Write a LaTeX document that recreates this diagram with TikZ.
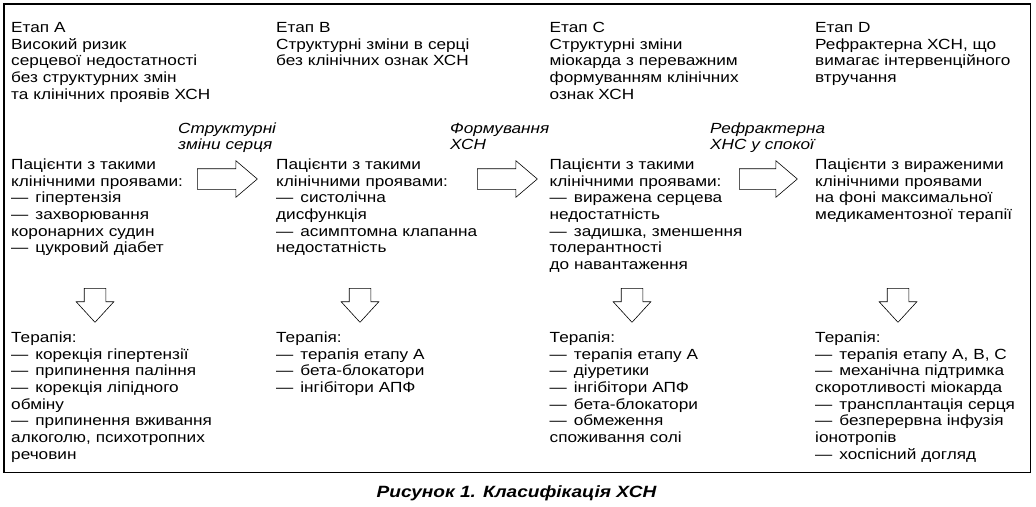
\documentclass[tikz,border=0pt]{standalone}
\usepackage{fontspec}
\setmainfont{Liberation Sans}[FakeStretch=1.17]
\usetikzlibrary{shapes.arrows}
\newcommand{\tire}{—\hspace{7pt}}

\begin{document}
\begin{tikzpicture}[x=1pt, y=-1pt,
    txt/.style={anchor=base west, inner sep=0pt, text width=255pt, align=left,
      font=\fontsize{14.7}{16.7}\selectfont},
    lbl/.style={txt, font=\fontsize{14.7}{16}\selectfont\itshape},
    rarrow/.style={single arrow, draw, line width=0.6pt, anchor=tail,
      inner xsep=0pt, inner ysep=10pt,
      minimum height=60pt, minimum width=36pt, single arrow head extend=8pt,
      single arrow tip angle=81},
    darrow/.style={rarrow, shape border rotate=270, inner xsep=10.5pt, inner ysep=0pt,
      minimum height=34pt, minimum width=37pt, single arrow tip angle=85}]
  \useasboundingbox (0,0) rectangle (1036,506);
  \draw[line width=1.2pt] (4,4) rectangle (1030.5,472.5);

  % stages
  \node[txt] (stA) at (11,32.3) {Етап А\\Високий ризик\\серцевої недостатності\\без структурних змін\\та клінічних проявів ХСН};
  \node[txt] (stB) at (276,32.3) {Етап В\\Структурні зміни в серці\\без клінічних ознак ХСН};
  \node[txt] (stC) at (549.5,32.3) {Етап С\\Структурні зміни\\міокарда з переважним\\формуванням клінічних\\ознак ХСН};
  \node[txt] (stD) at (815,32.3) {Етап D\\Рефрактерна ХСН, що\\вимагає інтервенційного\\втручання};

  % patients
  \node[txt] (ptA) at (11,169.3) {Пацієнти з такими\\клінічними проявами:\\\tire гіпертензія\\\tire захворювання\\коронарних судин\\\tire цукровий діабет};
  \node[txt] (ptB) at (276,169.3) {Пацієнти з такими\\клінічними проявами:\\\tire систолічна\\дисфункція\\\tire асимптомна клапанна\\недостатність};
  \node[txt] (ptC) at (549.5,169.3) {Пацієнти з такими\\клінічними проявами:\\\tire виражена серцева\\недостатність\\\tire задишка, зменшення\\толерантності\\до навантаження};
  \node[txt] (ptD) at (815,169.3) {Пацієнти з вираженими\\клінічними проявами\\на фоні максимальної\\медикаментозної терапії};

  % transitions
  \node[lbl] (lbAB) at (178,133.3) {Структурні\\зміни серця};
  \node[lbl] (lbBC) at (450,133.3) {Формування\\ХСН};
  \node[lbl] (lbCD) at (710,133.3) {Рефрактерна\\ХНС у спокої};
  \node[rarrow] (arAB) at (197,179) {};
  \node[rarrow] (arBC) at (477,179) {};
  \node[rarrow, minimum height=58pt] (arCD) at (739,179) {};

  % therapy
  \node[darrow] (dnA) at (95,288) {};
  \node[darrow] (dnB) at (360,288) {};
  \node[darrow] (dnC) at (632,288) {};
  \node[darrow] (dnD) at (898,288) {};
  \node[txt] (thA) at (11,342.3) {Терапія:\\\tire корекція гіпертензії\\\tire припинення паління\\\tire корекція ліпідного\\обміну\\\tire припинення вживання\\алкоголю, психотропних\\речовин};
  \node[txt] (thB) at (276,342.3) {Терапія:\\\tire терапія етапу А\\\tire бета-блокатори\\\tire інгібітори АПФ};
  \node[txt] (thC) at (549.5,342.3) {Терапія:\\\tire терапія етапу А\\\tire діуретики\\\tire інгібітори АПФ\\\tire бета-блокатори\\\tire обмеження\\споживання солі};
  \node[txt] (thD) at (815,342.3) {Терапія:\\\tire терапія етапу А, В, С\\\tire механічна підтримка\\скоротливості міокарда\\\tire трансплантація серця\\\tire безперервна інфузія\\іонотропів\\\tire хоспісний догляд};

  \node[anchor=base, inner sep=0pt, font=\fontsize{16.3}{20}\selectfont\bfseries\itshape] (cap) at (516.5,497) {Рисунок 1. Класифікація ХСН};
\end{tikzpicture}
\end{document}
